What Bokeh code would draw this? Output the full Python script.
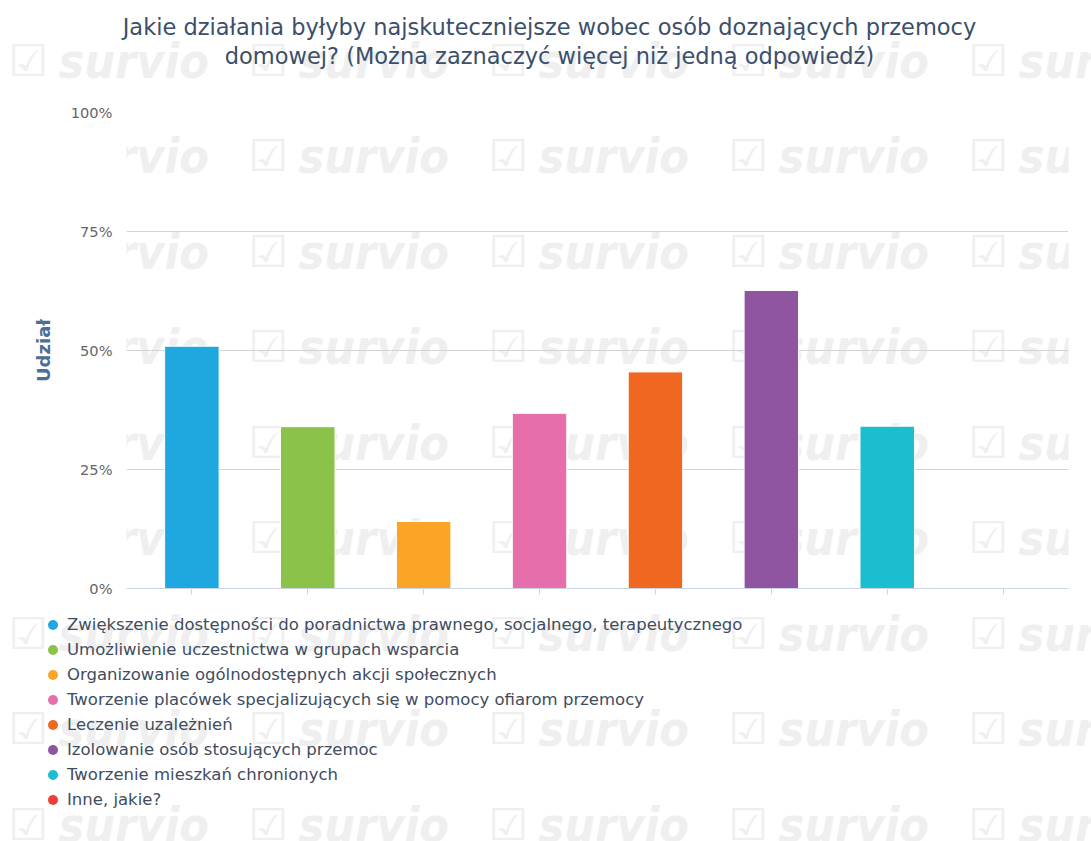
from bokeh.plotting import figure
from bokeh.layouts import column, row
from bokeh.models import (ColumnDataSource, FactorRange, Range1d, FixedTicker,
                          PrintfTickFormatter, Legend, LegendItem, Label)
from bokeh.core.properties import value
from bokeh.embed import file_html
from bokeh.resources import INLINE

# ---------------- data ----------------
title_lines = [
    "Jakie działania byłyby najskuteczniejsze wobec osób doznających przemocy",
    "domowej? (Można zaznaczyć więcej niż jedną odpowiedź)",
]
categories = [
    "Zwiększenie dostępności do poradnictwa prawnego, socjalnego, terapeutycznego",
    "Umożliwienie uczestnictwa w grupach wsparcia",
    "Organizowanie ogólnodostępnych akcji społecznych",
    "Tworzenie placówek specjalizujących się w pomocy ofiarom przemocy",
    "Leczenie uzależnień",
    "Izolowanie osób stosujących przemoc",
    "Tworzenie mieszkań chronionych",
    "Inne, jakie?",
]
shares = [50.9, 34.0, 14.1, 36.8, 45.5, 62.6, 34.1, 0.0]
colors = ["#1fa8df", "#8bc34a", "#fba526", "#e66fab",
          "#f06722", "#8f55a1", "#1bbecf", "#ee3e36"]
y_ticks = [0, 25, 50, 75, 100]
y_label = "Udział"
watermark_text = "survio"
watermark_icon = "☑"

FONT = "DejaVu Sans"
WM_FONT = "DejaVu Sans Condensed"
WM_COLOR = "#efefef"
BASE_FIX = 0.34   # label y correction (fraction of font size) for alphabetic baseline

src = ColumnDataSource(dict(cat=categories, share=shares, color=colors))

W = 1091
# vertical bands of the page: header 0..100, chart 100..610, legend 610..841
Y_HEAD, Y_CHART, Y_LEG = 0, 100, 610
H_HEAD, H_CHART, H_LEG = 100, 510, 231
FL, FR, FT, FB = 126, 1068, 112, 588   # plot frame in page pixels


def watermark(fig, left, bottom, top):
    """faint repeated logo; left/bottom = page position of the frame's
    bottom-left corner, top = page y of the frame's top"""
    for r in range(10):
        base_y = -19 + r * 95.5
        if base_y - 50 > bottom or base_y + 15 < top:
            continue
        for c in range(5):
            tx = 58 + c * 240
            fig.add_layout(Label(x=tx - left, y=bottom - base_y + BASE_FIX * 48,
                                 x_units="screen", y_units="screen",
                                 text=watermark_text, text_font=WM_FONT,
                                 text_font_style="bold italic", text_font_size="48px",
                                 text_color=WM_COLOR, text_baseline="alphabetic",
                                 level="image"))
            fig.add_layout(Label(x=tx - 50 - left, y=bottom - base_y + 2 + BASE_FIX * 44,
                                 x_units="screen", y_units="screen",
                                 text=watermark_icon, text_font="DejaVu Sans",
                                 text_font_style="bold", text_font_size="44px",
                                 text_color=WM_COLOR, text_baseline="alphabetic",
                                 level="image"))


# ---------------- header (title) ----------------
head = figure(width=W, height=H_HEAD, x_range=Range1d(0, 1), y_range=Range1d(0, 1),
              x_axis_type=None, y_axis_type=None,
              output_backend="svg", toolbar_location=None,
              min_border=0, min_border_left=0, min_border_right=0,
              min_border_top=0, min_border_bottom=0)
head.outline_line_color = None
head.grid.visible = False
watermark(head, 0, Y_HEAD + H_HEAD, Y_HEAD)
TITLE_FS = 22.5
title_base = [34.3, 63.3]
for line, by in zip(title_lines, title_base):
    head.add_layout(Label(x=549, y=Y_HEAD + H_HEAD - by + BASE_FIX * TITLE_FS,
                          x_units="screen", y_units="screen",
                          text=line, text_font=FONT, text_font_size=f"{TITLE_FS}px",
                          text_color="#3b4f6b", text_align="center",
                          text_baseline="alphabetic"))

# ---------------- chart ----------------
p = figure(width=W, height=H_CHART,
           x_range=FactorRange(*categories, range_padding=0.016),
           y_range=Range1d(0, 100),
           output_backend="svg", toolbar_location=None,
           min_border_left=FL, min_border_right=W - FR,
           min_border_top=FT - Y_CHART, min_border_bottom=Y_CHART + H_CHART - FB)
p.outline_line_color = None
watermark(p, FL, FB, FT)

p.vbar(x="cat", top="share", width=0.47, source=src,
       fill_color="color", line_color="white", line_width=1)

ticker = FixedTicker(ticks=y_ticks)
p.yaxis.ticker = ticker
p.yaxis.formatter = PrintfTickFormatter(format="%d%%")
p.yaxis.axis_line_color = None
p.yaxis.major_tick_line_color = None
p.yaxis.minor_tick_line_color = None
p.yaxis.major_tick_out = 0
p.yaxis.major_tick_in = 0
p.yaxis.major_label_standoff = 14
p.yaxis.major_label_text_font = FONT
p.yaxis.major_label_text_font_size = "14.6px"
p.yaxis.major_label_text_color = "#666666"
p.yaxis.axis_label = y_label
p.yaxis.axis_label_text_font = FONT
p.yaxis.axis_label_text_font_style = "bold"
p.yaxis.axis_label_text_font_size = "18px"
p.yaxis.axis_label_text_color = "#4d6e94"
p.yaxis.axis_label_standoff = 14

p.xaxis.axis_line_color = "#ccd6eb"
p.xaxis.axis_line_width = 1
p.xaxis.major_tick_line_color = "#ccd6eb"
p.xaxis.major_tick_out = 6
p.xaxis.major_tick_in = 0
p.xaxis.minor_tick_line_color = None
p.xaxis.major_label_text_color = None
p.xaxis.major_label_text_font_size = "1px"
p.xaxis.major_label_standoff = 0

p.ygrid.grid_line_color = "#d4d4d4"
p.ygrid.grid_line_width = 1
p.xgrid.grid_line_color = None

# ---------------- legend band ----------------
leg = figure(width=W, height=H_LEG,
             x_range=FactorRange(*categories), y_range=Range1d(0, 100),
             x_axis_type=None, y_axis_type=None,
             output_backend="svg", toolbar_location=None,
             min_border=0, min_border_left=0, min_border_right=0,
             min_border_top=0, min_border_bottom=0)
leg.outline_line_color = None
leg.grid.visible = False
watermark(leg, 0, Y_LEG + H_LEG, Y_LEG)
legend_r = leg.scatter(x="cat", y="share", size=0, source=src,
                       fill_color="color", line_color=None)

ROW = 25
leg_top = 624.3 - ROW / 2 - Y_LEG           # first row centre at page y 624.3
items = [LegendItem(label=value(c), renderers=[legend_r], index=i)
         for i, c in enumerate(categories)]
legend = Legend(items=items,
                location=(40, round(H_LEG - leg_top - ROW * len(categories))),
                orientation="vertical", padding=0, margin=0, spacing=0,
                glyph_width=ROW, glyph_height=ROW, label_height=ROW,
                label_standoff=2,
                label_text_font=FONT, label_text_font_size="16.5px",
                label_text_color="#3e4c5e",
                background_fill_alpha=0, border_line_color=None)
leg.add_layout(legend)

layout = column(row(head), row(p), row(leg), spacing=0)
open("out.html", "w").write(file_html(layout, INLINE))
